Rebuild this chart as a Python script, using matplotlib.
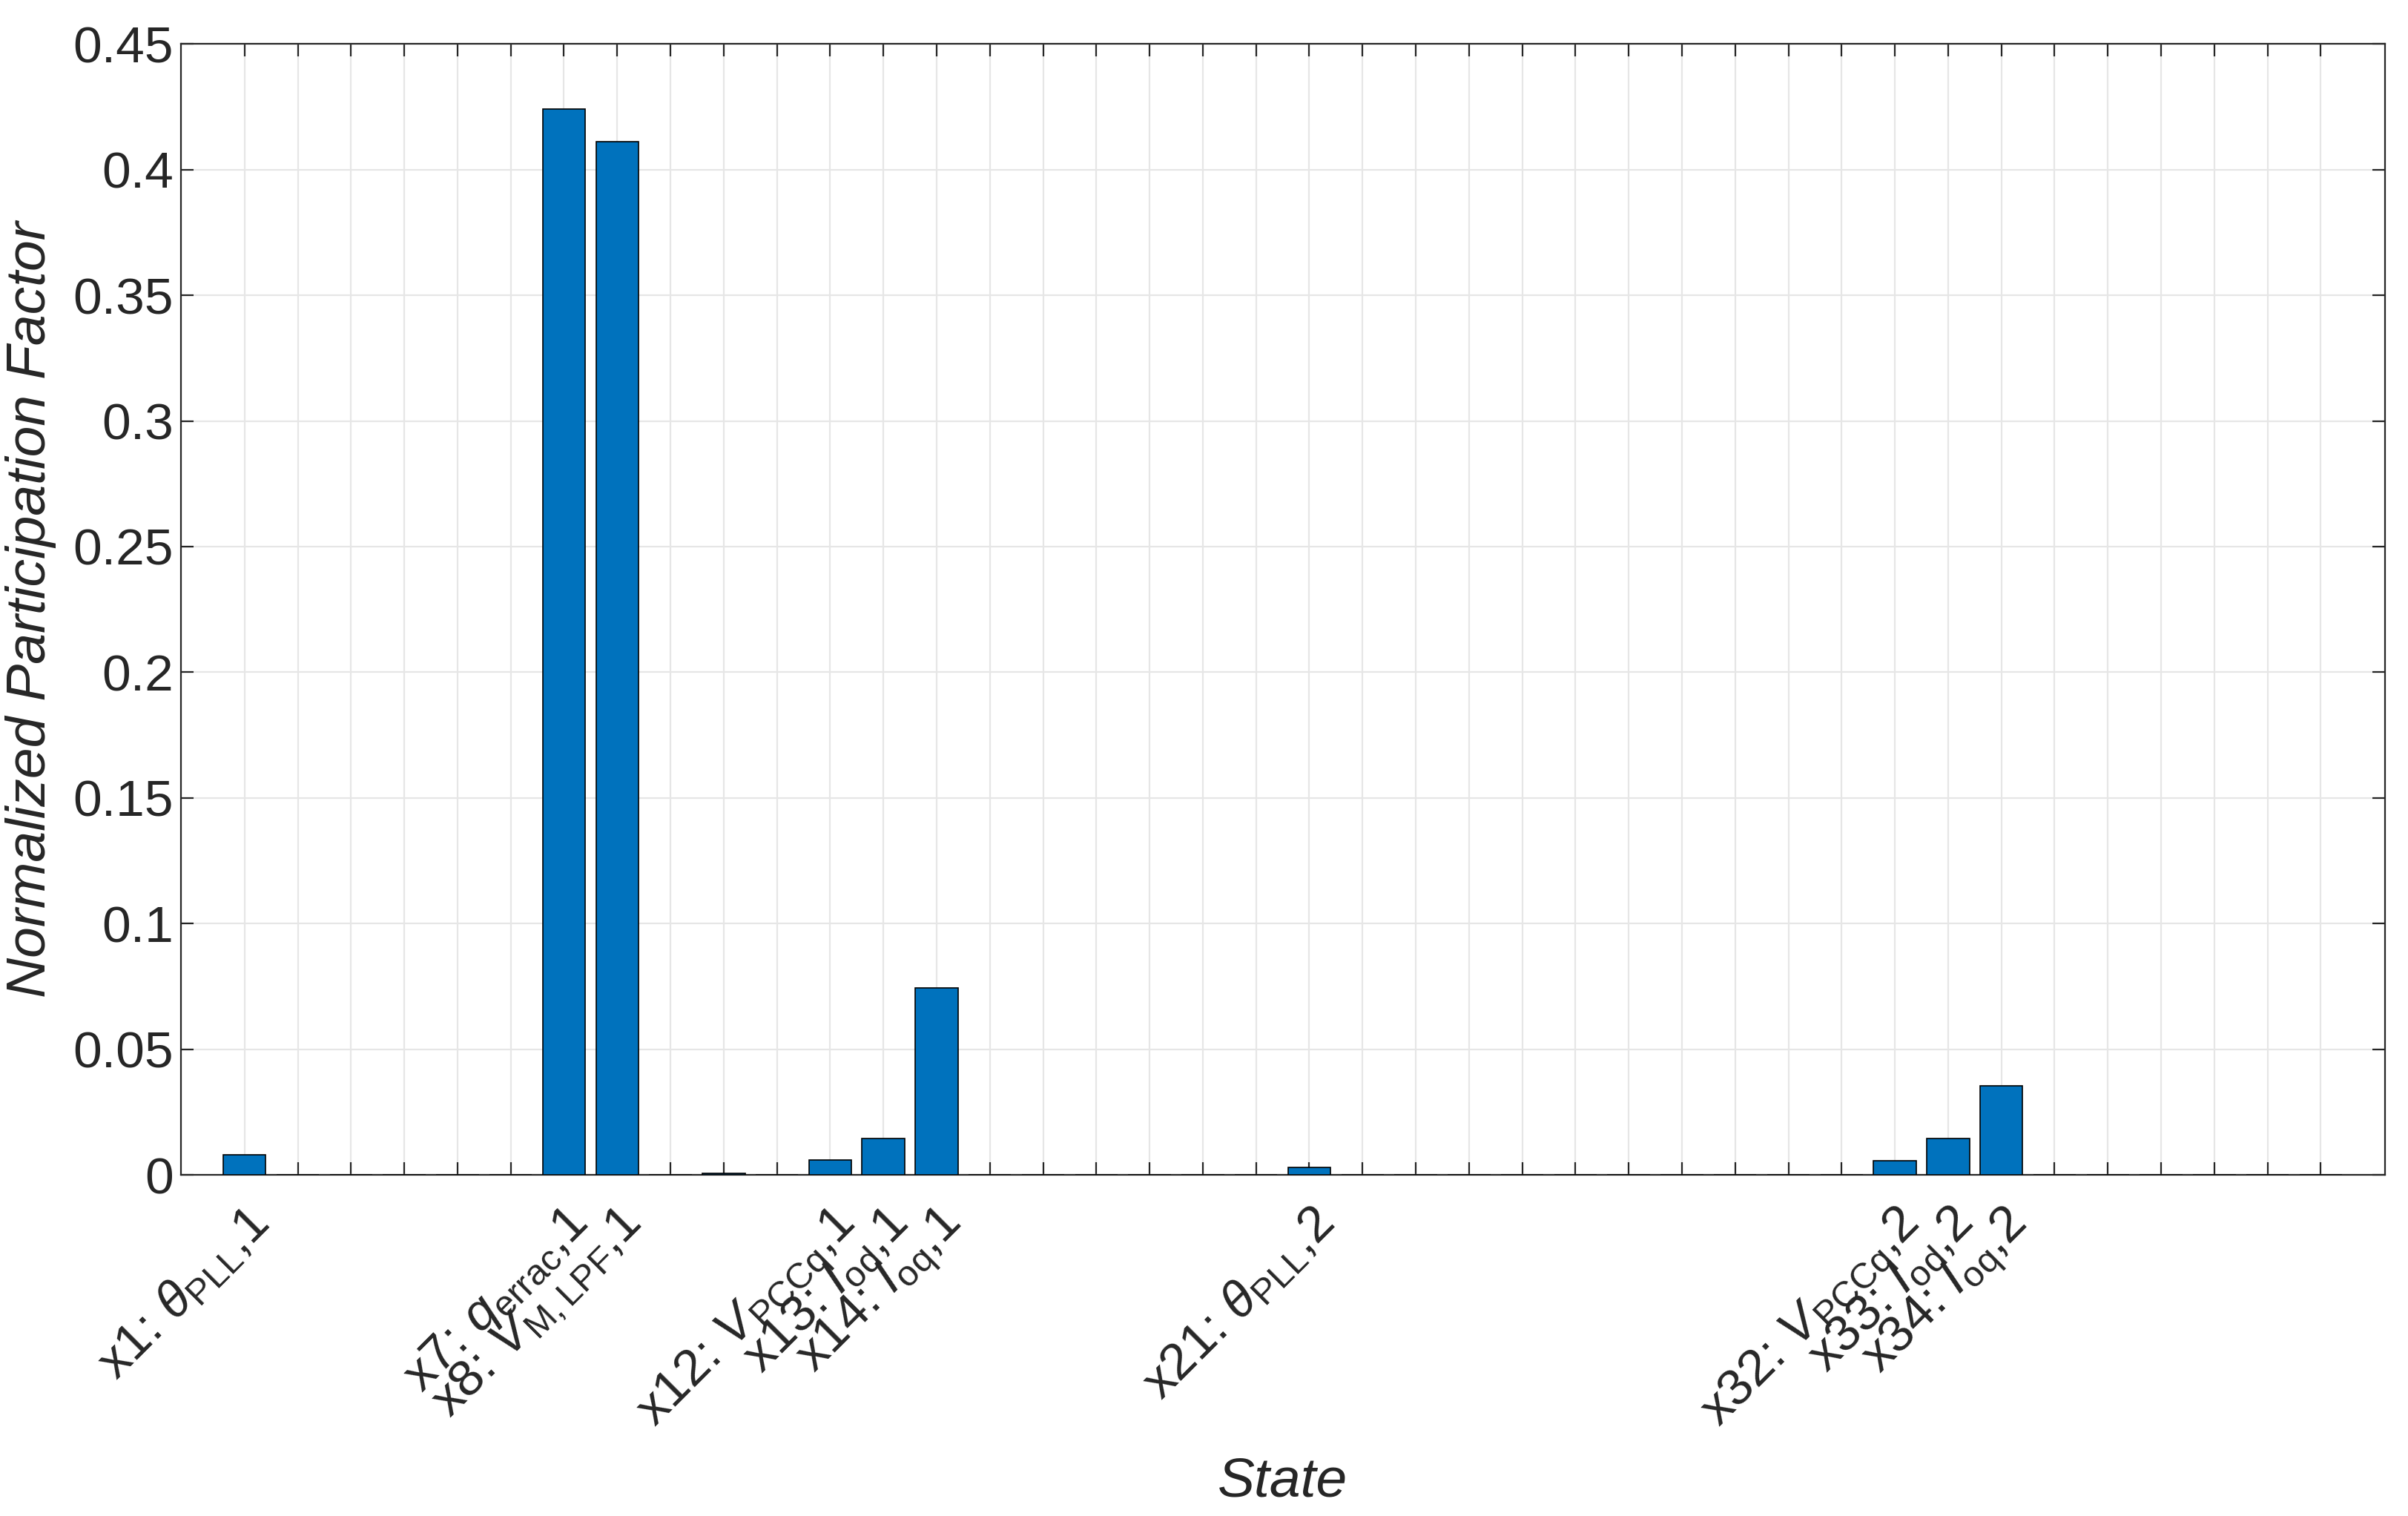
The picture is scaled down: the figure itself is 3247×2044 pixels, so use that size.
import matplotlib
matplotlib.use("Agg")
import matplotlib.pyplot as plt
import numpy as np

plt.rcParams['font.family'] = ['Liberation Sans', 'DejaVu Sans']
plt.rcParams['mathtext.fontset'] = 'custom'
plt.rcParams['mathtext.rm'] = 'Liberation Sans'
plt.rcParams['mathtext.it'] = 'Liberation Sans:italic'

n_states = 40
state_idx = [1, 7, 8, 10, 12, 13, 14, 21, 32, 33, 34]
state_vals = [0.008, 0.424, 0.411, 0.0005, 0.006, 0.0145, 0.0745, 0.003, 0.0055, 0.0145, 0.0355]
label_idx = [1, 7, 8, 12, 13, 14, 21, 32, 33, 34]
label_txt = [r'x1: $\theta_{\mathrm{PLL}}$,1', r'x7: $q_{\mathrm{errac}}$,1', r'x8: $V_{\mathrm{M,LPF}}$,1',
             r'x12: $V_{\mathrm{PCCq}}$,1', r'x13: $I_{\mathrm{od}}$,1', r'x14: $I_{\mathrm{oq}}$,1',
             r'x21: $\theta_{\mathrm{PLL}}$,2', r'x32: $V_{\mathrm{PCCq}}$,2', r'x33: $I_{\mathrm{od}}$,2',
             r'x34: $I_{\mathrm{oq}}$,2']

vals = np.zeros(n_states)
for i, v in zip(state_idx, state_vals):
    vals[i - 1] = v
x = np.arange(1, n_states + 1)

fig = plt.figure(figsize=(16.24, 10.22), dpi=200)
ax = fig.add_axes([0.075, 0.225, 0.915, 0.746])
ax.bar(x, vals, width=0.8, color='#0072BD', edgecolor='black', linewidth=0.6, zorder=3)
ax.set_xlim(-0.2, 41.2)
ax.set_ylim(0, 0.45)
ax.set_yticks(np.arange(0, 0.451, 0.05))
ax.set_yticklabels(['0', '0.05', '0.1', '0.15', '0.2', '0.25', '0.3', '0.35', '0.4', '0.45'])
ax.set_xticks(x)
labs = [''] * n_states
for i, t in zip(label_idx, label_txt):
    labs[i - 1] = t
ax.set_xticklabels(labs, rotation=45, ha='right', rotation_mode='anchor')
ax.tick_params(axis='both', direction='in', labelsize=25, length=6, width=0.8,
               top=True, right=True, colors='#262626')
ax.tick_params(axis='x', pad=12)
ax.grid(True, color='#e6e6e6', linewidth=0.8, zorder=0)
ax.set_axisbelow(True)
for s in ax.spines.values():
    s.set_color('#262626')
    s.set_linewidth(0.8)
ax.set_xlabel('State', fontsize=27, style='italic', color='#262626', labelpad=8)
ax.set_ylabel('Normalized Participation Factor', fontsize=27, style='italic', color='#262626', labelpad=8)
fig.savefig('out.png', dpi=200)
